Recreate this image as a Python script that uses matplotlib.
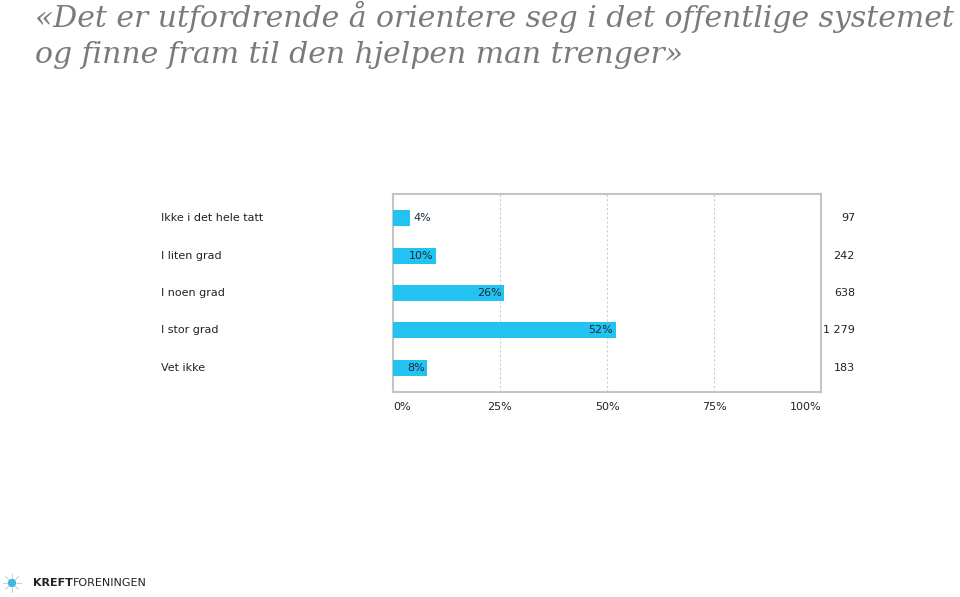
import numpy as np
import matplotlib.pyplot as plt
from matplotlib.patches import Circle

categories = ["Ikke i det hele tatt", "I liten grad", "I noen grad", "I stor grad", "Vet ikke"]
percent = [4, 10, 26, 52, 8]
counts = ["97", "242", "638", "1 279", "183"]
xticks = [0, 25, 50, 75, 100]

title_lines = ["«Det er utfordrende å orientere seg i det offentlige systemet",
               "og finne fram til den hjelpen man trenger»"]

bar_color = "#22c3f0"
text_color = "#1b2a3a"
W, H = 960, 597

fig = plt.figure(figsize=(9.6, 5.97), dpi=100)
fig.patch.set_facecolor("white")
renderer = fig.canvas.get_renderer()

# axes placed to match the reference pixel box (393..821 x 194..392)
ax = fig.add_axes([393 / W, 1 - 392 / H, (821 - 393) / W, (392 - 194) / H])

y = np.arange(len(categories))
ax.barh(y, percent, height=0.43, color=bar_color, zorder=3)
ax.set_xlim(0, 100)
ax.set_ylim(len(categories) - 0.5 + 0.15, -0.5 - 0.15)

for i, p in enumerate(percent):
    if p < 6:
        ax.text(p + 0.8, i, f"{p}%", va="center", ha="left", fontsize=8,
                color=text_color, family="DejaVu Sans", zorder=4)
    else:
        ax.text(p - 0.6, i, f"{p}%", va="center", ha="right", fontsize=8,
                color=text_color, family="DejaVu Sans", zorder=4)

# category labels on the left, counts on the right
for i, (c, n) in enumerate(zip(categories, counts)):
    ax.text((161 - 393) / 428 * 100, i, c, va="center", ha="left", fontsize=8,
            color="#222222", family="DejaVu Sans")
    ax.text((855 - 393) / 428 * 100, i, n, va="center", ha="right", fontsize=8,
            color="#222222", family="DejaVu Sans")

ax.set_yticks([])
ax.set_xticks(xticks)
ax.set_xticklabels([f"{t}%" for t in xticks], fontsize=8, color="#222222", family="DejaVu Sans")
ticklabels = ax.get_xticklabels()
ticklabels[0].set_ha("left")
ticklabels[-1].set_ha("right")
ax.tick_params(axis="x", length=0, pad=7)
for t in [25, 50, 75]:
    ax.axvline(t, color="#cccccc", lw=0.8, ls=(0, (2, 2)), zorder=1)
for s in ax.spines.values():
    s.set_color("#c4c4c4")
    s.set_linewidth(1.5)

# title: scale size so first line spans ~920 px like the reference
probe = fig.text(0, 0, title_lines[0], fontsize=20, family="DejaVu Serif", style="italic")
w = probe.get_window_extent(renderer).width
probe.remove()
tsize = 20 * 920 / w
fig.text(35 / W, 1 - 27 / H, title_lines[0], ha="left", va="baseline", fontsize=tsize,
         family="DejaVu Serif", style="italic", color="#7a7a7a")
fig.text(35 / W, 1 - 63 / H, title_lines[1], ha="left", va="baseline", fontsize=tsize,
         family="DejaVu Serif", style="italic", color="#7a7a7a")

# logo
logo = fig.add_axes([0, 0, 30 / W, 28 / H])
logo.set_xlim(0, 30)
logo.set_ylim(0, 28)
logo.axis("off")
logo.add_patch(Circle((12, 14), 3.5, color="#3fb8dc"))
for a in np.linspace(0, 2 * np.pi, 9)[:-1]:
    logo.plot([12 + 5 * np.cos(a), 12 + 9 * np.cos(a)], [14 + 5 * np.sin(a), 14 + 9 * np.sin(a)],
              color="#a9cbd8", lw=0.6)
t1 = fig.text(33 / W, 1 - 583 / H, "KREFT", ha="left", va="center", fontsize=8,
              weight="bold", family="DejaVu Sans", color="#222222")
x1 = t1.get_window_extent(renderer).x1
fig.text(x1 / W, 1 - 583 / H, "FORENINGEN", ha="left", va="center", fontsize=8,
         family="DejaVu Sans", color="#222222")

fig.savefig("out.png", dpi=100)
